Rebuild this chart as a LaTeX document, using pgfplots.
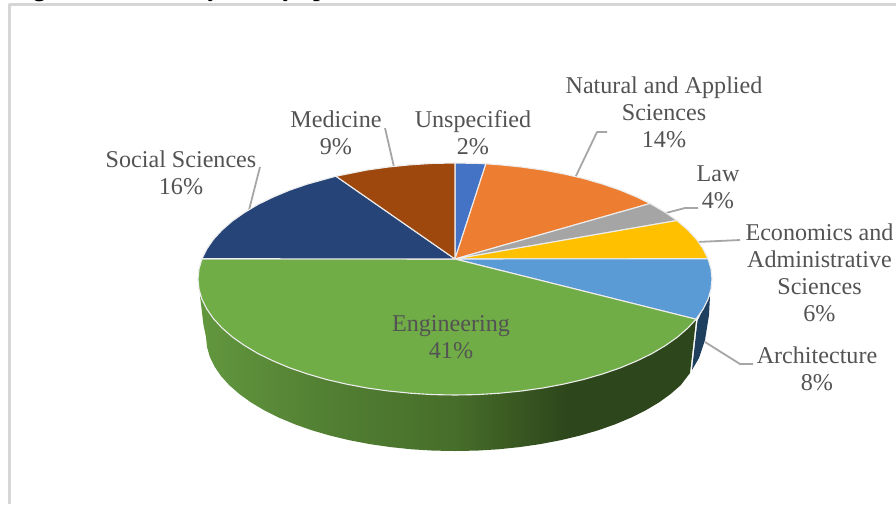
\documentclass[border=0pt]{standalone}
\usepackage{pgfplots}
\pgfplotsset{compat=1.18}
\usepackage{fontspec}
\setmainfont{Liberation Serif}
\definecolor{tx}{HTML}{535353}
\definecolor{ld}{HTML}{A6A6A6}
\definecolor{bd}{HTML}{D6D6D6}
\definecolor{wa}{HTML}{62973E}
\definecolor{wb}{HTML}{527F33}
\definecolor{wc}{HTML}{476E2A}
\definecolor{wd}{HTML}{2D461B}
\definecolor{cBlueD}{HTML}{1F3F5F}
\definecolor{cUnsp}{HTML}{4472C4}
\definecolor{cNat}{HTML}{ED7D31}
\definecolor{cLaw}{HTML}{A5A5A5}
\definecolor{cEco}{HTML}{FFC000}
\definecolor{cArc}{HTML}{5B9BD5}
\definecolor{cEng}{HTML}{70AD47}
\definecolor{cSoc}{HTML}{264478}
\definecolor{cMed}{HTML}{9E480E}
\pgfdeclarehorizontalshading{wallshade}{100bp}{color(0bp)=(wa);color(25bp)=(wa);color(38bp)=(wb);color(50.5bp)=(wc);color(62bp)=(wd);color(100bp)=(wd)}
\begin{document}
\begin{tikzpicture}[x=1pt,y=1pt]
\begin{axis}[
  scale only axis, width=896pt, height=504pt,
  xmin=0, xmax=896, ymin=0, ymax=504, y dir=reverse,
  hide axis, clip=true,
  every axis plot/.append style={line join=round},
  slice/.style={draw=white!93!black,line width=1.1pt},
]
\addplot[fill=white,draw=none] coordinates {(0,0)(896,0)(896,504)(0,504)} -- cycle;
% page frame
\addplot[draw=bd,line width=2.2pt] coordinates {(9.5,504)(9.5,4.5)(896,4.5)};
% sides
\addplot[draw=none,shading=wallshade,shade] coordinates {
(696,320)(687.9,328)(677.6,337)(665.5,345.5)(651.9,353.6)(636.7,361)(620.2,367.9)(602.4,374)(583.5,379.5)(563.6,384.1)(542.9,388)(521.5,391)(499.6,393.2)(477.4,394.6)(455,395)(432.6,394.6)(410.4,393.2)(388.5,391)(367.1,388)(346.4,384.1)(326.5,379.5)(307.6,374)(289.8,367.9)(273.3,361)(258.1,353.6)(244.5,345.5)(232.4,337)(222.1,328)(213.5,318.7)(206.8,309)(201.9,299.1)(200,296)
(203.5,325)(206,337)(207,346.9)(209.8,356.8)(214.5,366.5)(221,376)(229.3,385.2)(239.4,394)(251,402.4)(264.3,410.3)(278.9,417.6)(294.9,424.3)(312.2,430.4)(330.5,435.7)(349.8,440.3)(369.8,444.1)(390.6,447.1)(411.8,449.3)(433.3,450.6)(455,451)(476.7,450.6)(498.2,449.3)(519.4,447.1)(540.2,444.1)(560.2,440.3)(579.5,435.7)(597.8,430.4)(615.1,424.3)(631.1,417.6)(645.7,410.3)(659,402.4)(670.6,394)(680.7,385.2)(690,373)
} -- cycle;
\addplot[fill=cBlueD,draw=none] coordinates {
(697.5,321)(703.2,309)(708.1,299)(710,296)(709,315)(705,340)(699,358)(692,370)
} -- cycle;
% leader lines
\addplot[draw=ld,line width=1.8pt] coordinates {(575,178)(597,132)(607,132)};
\addplot[draw=ld,line width=1.8pt] coordinates {(666,213)(685,208)(698,208)};
\addplot[draw=ld,line width=1.8pt] coordinates {(697,242)(740,240)};
\addplot[draw=ld,line width=1.8pt] coordinates {(705,342)(740,364)(753,364)};
\addplot[draw=ld,line width=1.8pt] coordinates {(249,210)(260,167)};
\addplot[draw=ld,line width=1.8pt] coordinates {(394,167)(385,128)};
% top slices
\addplot[slice,fill=cUnsp] coordinates {(455,259)(455,163)(477.4,163.4)(485.9,163.8)} -- cycle;
\addplot[slice,fill=cNat] coordinates {(455,259)(485.9,163.8)(499.6,164.8)(521.5,167)(542.9,170)(563.6,173.9)(583.5,178.5)(602.4,184)(620.2,190.1)(636.7,197)(650.1,203.5)} -- cycle;
\addplot[slice,fill=cLaw] coordinates {(455,259)(650.1,203.5)(665.5,212.5)(676.9,220.5)} -- cycle;
\addplot[slice,fill=cEco] coordinates {(455,259)(676.9,220.5)(687.9,230)(696.5,239.3)(703.2,249)(708,258.7)} -- cycle;
\addplot[slice,fill=cArc] coordinates {(455,259)(708,258.7)(711,268.9)(712,279)(711,289.1)(708.1,299.1)(703.2,309)(696,319.2)} -- cycle;
\addplot[slice,fill=cEng] coordinates {(455,259)(696,319.2)(687.9,328)(677.6,337)(665.5,345.5)(651.9,353.6)(636.7,361)(620.2,367.9)(602.4,374)(583.5,379.5)(563.6,384.1)(542.9,388)(521.5,391)(499.6,393.2)(477.4,394.6)(455,395)(432.6,394.6)(410.4,393.2)(388.5,391)(367.1,388)(346.4,384.1)(326.5,379.5)(307.6,374)(289.8,367.9)(273.3,361)(258.1,353.6)(244.5,345.5)(232.4,337)(222.1,328)(213.5,318.7)(206.8,309)(201.9,299.1)(199,289.1)(198,279)(199,268.9)(202,258.7)} -- cycle;
\addplot[slice,fill=cSoc] coordinates {(455,259)(202,258.7)(206.8,249)(213.5,239.3)(222.1,230)(232.4,221)(244.5,212.5)(258.1,204.4)(273.3,197)(289.8,190.1)(307.6,184)(335.9,176.2)} -- cycle;
\addplot[slice,fill=cMed] coordinates {(455,259)(335.9,176.2)(367.1,170)(388.5,167)(410.4,164.8)(432.6,163.4)(455,163)} -- cycle;
% labels
\path[every node/.style={text=tx,align=center,font=\fontsize{24.1}{27}\selectfont}]
 (axis cs:664,112) node {Natural and Applied\\Sciences\\14\%}
 (axis cs:718,187.5) node {Law\\4\%}
 (axis cs:819.5,272.5) node {Economics and\\Administrative\\Sciences\\6\%}
 (axis cs:817,368.5) node {Architecture\\8\%}
 (axis cs:451,337.5) node {Engineering\\41\%}
 (axis cs:181,172.5) node {Social Sciences\\16\%}
 (axis cs:336,132.5) node {Medicine\\9\%}
 (axis cs:473,132.5) node {Unspecified\\2\%};
% caption cut off by the top edge
\path[every node/.style={inner sep=0pt,text=black,font=\fontsize{24}{27}\selectfont\bfseries}]
 (axis cs:12,-4) node[anchor=base west] {Figure 3.}
 (axis cs:220,-4) node[anchor=base east] {Diversity}
 (axis cs:295,-4) node[anchor=base east] {faculty}
 (axis cs:313,-4) node[anchor=base west] {p};
\end{axis}
\pgfresetboundingbox
\path[use as bounding box] (0,0) rectangle (896pt,504pt);
\end{tikzpicture}
\end{document}
